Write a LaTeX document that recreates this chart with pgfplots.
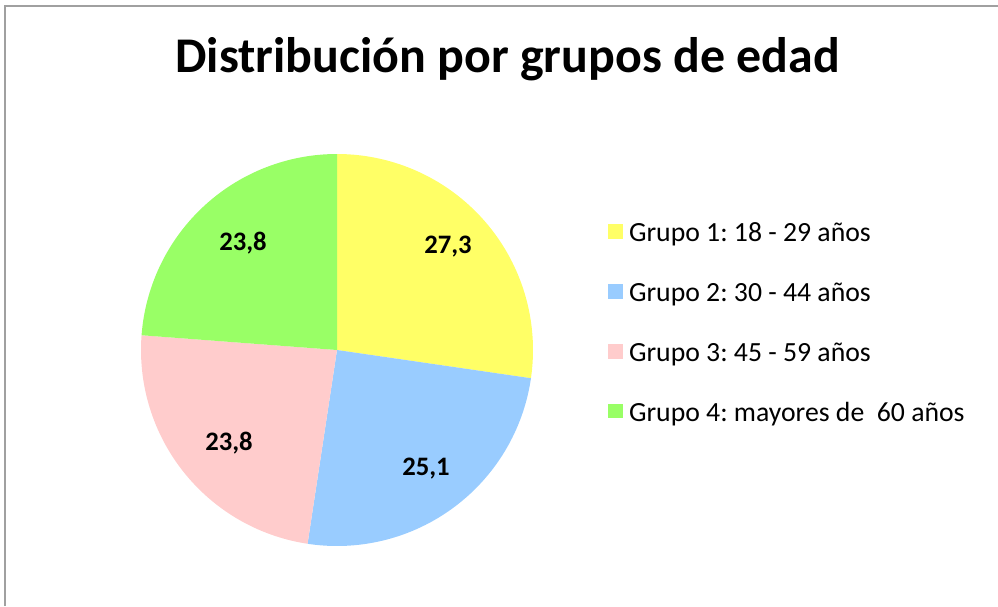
\documentclass[border=0pt]{standalone}
\usepackage{pgfplots}
\pgfplotsset{compat=1.18}
\usepackage{fontspec}
\setmainfont{Carlito}
\frenchspacing
\definecolor{cA}{RGB}{255,255,102}
\definecolor{cB}{RGB}{153,204,255}
\definecolor{cC}{RGB}{255,204,204}
\definecolor{cD}{RGB}{153,255,102}
\definecolor{frame}{RGB}{160,160,160}
% data (percent)
\def\vA{27.3}\def\vB{25.1}\def\vC{23.8}\def\vD{23.8}
\pgfmathsetmacro\aO{90}
\pgfmathsetmacro\aA{\aO-\vA*3.6}
\pgfmathsetmacro\aB{\aA-\vB*3.6}
\pgfmathsetmacro\aC{\aB-\vC*3.6}
\pgfmathsetmacro\aD{\aC-\vD*3.6}
\begin{document}
\begin{tikzpicture}
\begin{axis}[
  width=748.5pt, height=454.5pt, scale only axis,
  xmin=0, xmax=998, ymin=0, ymax=606, y dir=reverse,
  hide axis, clip=false,
  legend style={at={(axis cs:608,223)}, anchor=north west, draw=none, fill=none,
    inner sep=0pt, row sep=25.8pt,
    font=\fontsize{20.8}{25}\selectfont,
    nodes={inner ysep=0pt, inner xsep=4.3pt, text height=14pt, text depth=5pt}},
  legend cell align=left,
  legend image code/.code={\fill[#1] (0pt,-2.5pt) rectangle (11.25pt,8.7pt);},
]
\addplot[draw=none, fill=cA, domain=\aO:\aA, samples=80] ({337+196*cos(x)},{350-196*sin(x)}) -- (axis cs:337,350) -- cycle;
\addlegendentry{Grupo 1: 18 - 29 años}
\addplot[draw=none, fill=cB, domain=\aA:\aB, samples=80] ({337+196*cos(x)},{350-196*sin(x)}) -- (axis cs:337,350) -- cycle;
\addlegendentry{Grupo 2: 30 - 44 años}
\addplot[draw=none, fill=cC, domain=\aB:\aC, samples=80] ({337+196*cos(x)},{350-196*sin(x)}) -- (axis cs:337,350) -- cycle;
\addlegendentry{Grupo 3: 45 - 59 años}
\addplot[draw=none, fill=cD, domain=\aC:\aD, samples=80] ({337+196*cos(x)},{350-196*sin(x)}) -- (axis cs:337,350) -- cycle;
\addlegendentry{Grupo 4: mayores de\ \ 60 años}
\begin{scope}[every node/.style={font=\bfseries\fontsize{20}{24}\selectfont, inner sep=0pt}]
\node at (axis cs:448,247) {27,3};
\node at (axis cs:426,469) {25,1};
\node at (axis cs:243,243) {23,8};
\node at (axis cs:229,443) {23,8};
\end{scope}
\node[anchor=base, inner sep=0pt, font=\bfseries\fontsize{37.45}{45}\selectfont] at (axis cs:507.5,73) {Distribución por grupos de edad};
\draw[frame, line width=1.5pt] (axis cs:5,606) -- (axis cs:5,6) -- (axis cs:998,6);
\coordinate (BL) at (axis cs:0,606);
\coordinate (TR) at (axis cs:998,0);
\end{axis}
\pgfresetboundingbox
\path[use as bounding box] (BL) rectangle (TR);
\end{tikzpicture}
\end{document}
